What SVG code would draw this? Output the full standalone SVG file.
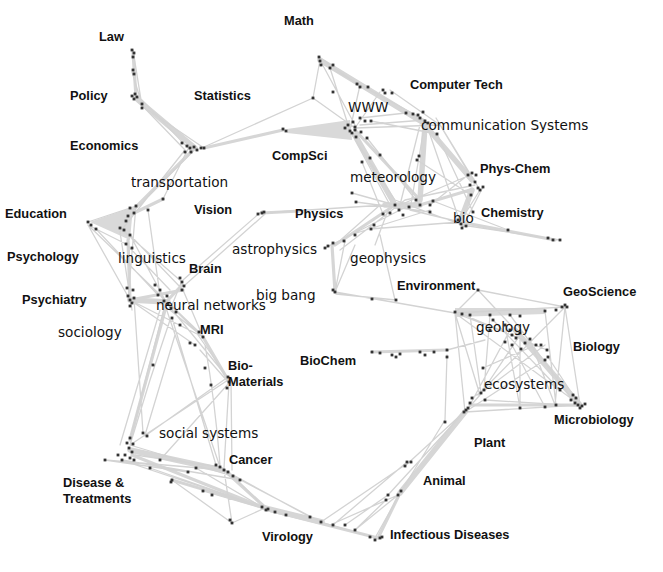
<svg xmlns="http://www.w3.org/2000/svg" width="663" height="572" viewBox="0 0 663 572">
<style>
.e{fill:none;stroke:#d3d3d3;stroke-width:1.3;stroke-linecap:round}
.b3{fill:none;stroke:#d6d6d6;stroke-width:3.2;stroke-linecap:round}
.b5{fill:none;stroke:#d6d6d6;stroke-width:5.5;stroke-linecap:round}
.poly{fill:#d9d9d9;stroke:none}
.d{fill:#333}
.c{font-family:"Liberation Sans",Arial,sans-serif;font-weight:bold;font-size:12.8px;fill:#111}
.t{font-family:"DejaVu Sans","Liberation Sans",sans-serif;font-size:13.6px;fill:#111}
</style>
<defs>
<rect id="p" x="-1.4" y="-1.4" width="2.8" height="2.8"/>
</defs>
<rect width="663" height="572" fill="#fff"/>
<g id="connectors">
<polygon class="poly" points="90,222 133,207 130,240"/>
<polygon class="poly" points="287,129 350,120 352,140 287,133"/>
<polygon class="poly" points="455,308 545,308 545,314 455,317"/>
<path class="b3" d="M133 52 L136 97 M193 150 L133 210 M163 199 L132 214 M128 240 L130 300 M168 300 L182 285 M262 213 L300 211 M203 337 L228 380 M132 455 L265 508 M224 470 L268 510 M268 510 L378 538 M378 538 L400 493 M372 352 L447 350 M470 405 L578 405 M335 292 L332 245 M335 245 L395 205 M460 222 L555 240 M204 148 L283 130 M130 440 L165 310 M172 480 L262 507 M130 300 L183 290 M420 205 L470 190 M355 130 L420 200"/>
<path class="b5" d="M138 100 L195 148 M130 300 L168 302 M130 450 L222 470 M400 493 L465 412 M515 330 L580 405 M385 205 L420 205 M355 135 L395 205 M320 60 L422 122 M425 125 L472 180 M425 125 L420 200 M472 190 L460 222 M265 508 L322 522"/>
<path class="e" d="M133 50 L142 106 M132 72 L140 98 M133 96 L185 150 M142 106 L204 148 M140 98 L192 152 M204 147 L313 98 M313 98 L320 60 M313 98 L355 128 M320 60 L355 125 M185 150 L120 232 M190 145 L163 199 M192 152 L140 205 M148 210 L160 295 M88 225 L130 300 M88 225 L155 290 M130 235 L165 300 M126 244 L170 290 M130 235 L183 290 M136 205 L128 300 M120 232 L132 310 M183 280 L262 211 M185 285 L265 214 M262 213 L385 205 M165 300 L198 333 M170 310 L203 337 M130 300 L195 345 M183 290 L203 337 M181 283 L170 310 M165 305 L130 440 M170 320 L150 380 L130 445 M175 335 L145 435 M160 310 L120 445 M228 380 L130 445 M228 380 L145 435 M229 383 L224 468 M231 380 L232 470 M205 345 Q215 400 220 465 M198 335 L228 378 M200 350 L229 383 M105 460 L224 470 M135 455 L220 467 M127 462 L265 508 M172 480 L265 508 M172 480 L232 523 M232 523 L265 508 M224 470 L310 517 M228 471 L265 508 M321 522 L405 465 M330 525 L398 495 M355 530 L398 495 M375 538 L402 490 M321 522 L375 538 M447 355 L445 420 M445 420 L402 490 M447 350 L485 340 M465 412 L480 395 M465 412 L580 405 M480 395 L520 335 M485 390 L545 345 M470 405 L510 330 M478 395 L565 307 M520 405 L520 340 M555 405 L530 340 M555 405 L565 307 M580 405 L565 307 M455 313 L565 307 M478 290 L565 307 M478 290 L520 335 M478 290 L455 313 M455 313 L580 405 M455 313 L480 395 M455 313 L465 412 M335 292 L455 313 M336 294 L396 300 M335 292 L355 245 M340 250 L405 200 M375 245 L390 205 M380 235 L395 300 M355 140 L390 205 M352 135 L395 200 M360 125 L425 120 M355 128 L440 125 M420 125 L400 205 M425 122 L410 210 M440 125 L470 175 M436 118 L480 190 M425 120 L460 222 M400 205 L470 175 M405 200 L475 185 M410 210 L460 222 M395 200 L462 225 M460 222 L480 190 M462 225 L560 240 M330 68 L410 112 M360 85 L425 120 M380 92 L355 128 M360 85 L350 130 M390 90 L440 125 M380 205 L335 245 M350 235 L430 210 M325 248 L420 200 M335 292 L345 241 M134 298 L143 433 M160 295 L228 378 M165 305 L220 467 M172 318 L216 465 M130 300 L203 337 M155 290 L199 332 M96 229 L158 295 M120 228 L182 282 M88 222 L136 206 M88 225 L126 244 M130 445 L232 476 M122 460 L240 480 M105 460 L188 472 M150 468 L265 508 M196 468 L262 507 M224 470 L232 523 M233 476 L321 522 M203 491 L286 515 M228 377 L145 436 M229 383 L160 460 M370 229 L460 222 M356 202 L430 212 M352 193 L395 205 M362 162 L383 214 M380 155 L420 205 M417 160 L471 195 M437 134 L473 212 M367 138 L416 200 M371 121 L437 134 M360 118 L406 113 M319 57 L357 84 M330 68 L350 131 M468 175 L430 205 M483 187 L462 228 M433 201 L508 230 M545 311 L556 405 M490 315 L484 390 M505 325 L520 408 M510 315 L575 403 M493 320 L560 390 M470 315 L481 393 M512 345 L545 407 M548 357 L573 395 M483 368 L536 345 M455 313 L512 335 M462 314 L547 350 M484 390 L472 398 M485 400 L582 406 M465 412 L545 360 M405 466 L464 412 M388 495 L466 410 M345 525 L388 495 M333 525 L407 462 M355 530 L386 500"/>
</g>
<g id="law"><g class="d"><use href="#p" x="132" y="50"/><use href="#p" x="134" y="53"/><use href="#p" x="133" y="57"/><use href="#p" x="133" y="70"/><use href="#p" x="134" y="74"/></g><text class="c" x="99" y="41">Law</text></g>
<g id="policy"><g class="d"><use href="#p" x="132" y="96"/><use href="#p" x="135" y="94"/><use href="#p" x="137" y="97"/><use href="#p" x="134" y="99"/><use href="#p" x="142" y="104"/><use href="#p" x="142" y="108"/></g><text class="c" x="70" y="100">Policy</text></g>
<g id="economics"><g class="d"><use href="#p" x="182" y="143"/><use href="#p" x="187" y="146"/><use href="#p" x="190" y="148"/><use href="#p" x="194" y="147"/><use href="#p" x="197" y="150"/><use href="#p" x="201" y="148"/><use href="#p" x="204" y="148"/><use href="#p" x="185" y="152"/><use href="#p" x="191" y="152"/></g><text class="c" x="70" y="150">Economics</text></g>
<g id="statistics"><g class="d"><use href="#p" x="283" y="129"/><use href="#p" x="286" y="131"/><use href="#p" x="313" y="98"/></g><text class="c" x="194" y="100">Statistics</text></g>
<g id="math"><g class="d"><use href="#p" x="319" y="57"/><use href="#p" x="320" y="61"/><use href="#p" x="321" y="65"/><use href="#p" x="330" y="68"/><use href="#p" x="333" y="65"/><use href="#p" x="333" y="92"/></g><text class="c" x="284" y="25">Math</text></g>
<g id="compsci"><text class="c" x="272" y="160">CompSci</text></g>
<g id="www"><g class="d"><use href="#p" x="353" y="122"/><use href="#p" x="355" y="127"/><use href="#p" x="355" y="130"/><use href="#p" x="352" y="133"/><use href="#p" x="356" y="137"/><use href="#p" x="350" y="131"/><use href="#p" x="348" y="125"/><use href="#p" x="367" y="138"/><use href="#p" x="371" y="121"/><use href="#p" x="365" y="121"/><use href="#p" x="360" y="118"/><use href="#p" x="361" y="132"/><use href="#p" x="345" y="128"/></g><text class="t" x="348" y="112">WWW</text></g>
<g id="computer-tech"><g class="d"><use href="#p" x="357" y="84"/><use href="#p" x="360" y="87"/><use href="#p" x="368" y="87"/><use href="#p" x="383" y="90"/><use href="#p" x="385" y="93"/><use href="#p" x="392" y="93"/></g><text class="c" x="410" y="89">Computer Tech</text></g>
<g id="communication"><g class="d"><use href="#p" x="406" y="113"/><use href="#p" x="413" y="114"/><use href="#p" x="418" y="115"/><use href="#p" x="423" y="112"/><use href="#p" x="420" y="118"/><use href="#p" x="425" y="121"/><use href="#p" x="428" y="123"/><use href="#p" x="437" y="134"/><use href="#p" x="417" y="160"/><use href="#p" x="419" y="156"/></g><text class="t" x="421" y="130">communication Systems</text></g>
<g id="phys-chem"><g class="d"><use href="#p" x="468" y="175"/><use href="#p" x="472" y="173"/><use href="#p" x="476" y="175"/><use href="#p" x="470" y="185"/><use href="#p" x="475" y="182"/><use href="#p" x="478" y="188"/><use href="#p" x="480" y="190"/><use href="#p" x="471" y="195"/><use href="#p" x="483" y="187"/></g><text class="c" x="480" y="173">Phys-Chem</text></g>
<g id="meteorology"><g class="d"><use href="#p" x="362" y="162"/><use href="#p" x="370" y="158"/><use href="#p" x="380" y="155"/><use href="#p" x="383" y="214"/><use href="#p" x="390" y="213"/><use href="#p" x="395" y="205"/><use href="#p" x="399" y="210"/><use href="#p" x="409" y="207"/><use href="#p" x="416" y="200"/><use href="#p" x="420" y="205"/><use href="#p" x="430" y="205"/><use href="#p" x="430" y="212"/><use href="#p" x="433" y="201"/><use href="#p" x="352" y="193"/><use href="#p" x="356" y="202"/><use href="#p" x="403" y="215"/></g><text class="t" x="350" y="182">meteorology</text></g>
<g id="bio"><g class="d"><use href="#p" x="458" y="220"/><use href="#p" x="461" y="224"/><use href="#p" x="462" y="228"/><use href="#p" x="466" y="226"/><use href="#p" x="473" y="212"/></g><text class="t" x="453" y="223">bio</text></g>
<g id="chemistry"><g class="d"><use href="#p" x="508" y="230"/><use href="#p" x="548" y="238"/><use href="#p" x="553" y="240"/><use href="#p" x="560" y="240"/></g><text class="c" x="481" y="217">Chemistry</text></g>
<g id="physics"><g class="d"><use href="#p" x="258" y="214"/><use href="#p" x="262" y="213"/><use href="#p" x="264" y="212"/></g><text class="c" x="295" y="218">Physics</text></g>
<g id="vision"><text class="c" x="194" y="214">Vision</text></g>
<g id="astrophysics"><g class="d"><use href="#p" x="325" y="248"/><use href="#p" x="328" y="246"/><use href="#p" x="333" y="243"/><use href="#p" x="344" y="241"/><use href="#p" x="355" y="235"/><use href="#p" x="371" y="229"/><use href="#p" x="374" y="225"/></g><text class="t" x="232" y="254">astrophysics</text></g>
<g id="geophysics"><text class="t" x="350" y="263">geophysics</text></g>
<g id="big-bang"><g class="d"><use href="#p" x="335" y="292"/><use href="#p" x="333" y="290"/><use href="#p" x="372" y="299"/><use href="#p" x="396" y="300"/></g><text class="t" x="256" y="300">big bang</text></g>
<g id="transportation"><text class="t" x="131" y="187">transportation</text></g>
<g id="education"><g class="d"><use href="#p" x="88" y="222"/><use href="#p" x="91" y="225"/><use href="#p" x="96" y="229"/><use href="#p" x="130" y="208"/><use href="#p" x="136" y="206"/><use href="#p" x="134" y="213"/><use href="#p" x="128" y="216"/><use href="#p" x="126" y="221"/><use href="#p" x="120" y="228"/><use href="#p" x="124" y="230"/><use href="#p" x="130" y="235"/><use href="#p" x="126" y="244"/><use href="#p" x="163" y="199"/><use href="#p" x="148" y="210"/><use href="#p" x="132" y="248"/></g><text class="c" x="5" y="218">Education</text></g>
<g id="psychology"><text class="c" x="7" y="261">Psychology</text></g>
<g id="linguistics"><g class="d"><use href="#p" x="155" y="285"/><use href="#p" x="160" y="290"/><use href="#p" x="158" y="295"/><use href="#p" x="167" y="296"/></g><text class="t" x="118" y="263">linguistics</text></g>
<g id="brain"><g class="d"><use href="#p" x="180" y="278"/><use href="#p" x="182" y="282"/><use href="#p" x="184" y="286"/><use href="#p" x="182" y="290"/></g><text class="c" x="189" y="273">Brain</text></g>
<g id="psychiatry"><g class="d"><use href="#p" x="128" y="296"/><use href="#p" x="130" y="300"/><use href="#p" x="132" y="303"/><use href="#p" x="134" y="298"/><use href="#p" x="130" y="306"/><use href="#p" x="133" y="290"/><use href="#p" x="127" y="288"/></g><text class="c" x="22" y="304">Psychiatry</text></g>
<g id="neural-networks"><g class="d"><use href="#p" x="164" y="301"/><use href="#p" x="168" y="304"/><use href="#p" x="171" y="308"/><use href="#p" x="176" y="312"/></g><text class="t" x="156" y="310">neural networks</text></g>
<g id="sociology"><text class="t" x="58" y="337">sociology</text></g>
<g id="mri"><g class="d"><use href="#p" x="199" y="332"/><use href="#p" x="203" y="337"/><use href="#p" x="195" y="345"/><use href="#p" x="190" y="343"/><use href="#p" x="172" y="318"/><use href="#p" x="180" y="325"/></g><text class="c" x="200" y="334">MRI</text></g>
<g id="bio-materials"><g class="d"><use href="#p" x="228" y="377"/><use href="#p" x="229" y="382"/><use href="#p" x="227" y="388"/><use href="#p" x="211" y="385"/><use href="#p" x="205" y="368"/></g><text class="c" x="228" y="370">Bio-</text><text class="c" x="228" y="386">Materials</text></g>
<g id="social-systems"><text class="t" x="159" y="438">social systems</text></g>
<g id="disease"><g class="d"><use href="#p" x="130" y="438"/><use href="#p" x="127" y="443"/><use href="#p" x="133" y="444"/><use href="#p" x="129" y="448"/><use href="#p" x="132" y="452"/><use href="#p" x="125" y="455"/><use href="#p" x="130" y="458"/><use href="#p" x="134" y="460"/><use href="#p" x="122" y="460"/><use href="#p" x="105" y="460"/><use href="#p" x="118" y="455"/><use href="#p" x="143" y="433"/><use href="#p" x="147" y="436"/><use href="#p" x="153" y="365"/><use href="#p" x="172" y="480"/><use href="#p" x="171" y="482"/><use href="#p" x="150" y="468"/><use href="#p" x="188" y="472"/><use href="#p" x="196" y="468"/><use href="#p" x="160" y="460"/></g><text class="c" x="63" y="487">Disease &amp;</text><text class="c" x="63" y="503">Treatments</text></g>
<g id="cancer"><g class="d"><use href="#p" x="220" y="467"/><use href="#p" x="224" y="470"/><use href="#p" x="228" y="472"/><use href="#p" x="216" y="465"/><use href="#p" x="233" y="476"/><use href="#p" x="240" y="480"/></g><text class="c" x="229" y="464">Cancer</text></g>
<g id="virology"><g class="d"><use href="#p" x="262" y="507"/><use href="#p" x="266" y="510"/><use href="#p" x="268" y="509"/><use href="#p" x="275" y="512"/><use href="#p" x="286" y="515"/><use href="#p" x="310" y="517"/><use href="#p" x="321" y="522"/><use href="#p" x="232" y="523"/><use href="#p" x="230" y="520"/><use href="#p" x="203" y="491"/><use href="#p" x="212" y="495"/></g><text class="c" x="262" y="541">Virology</text></g>
<g id="infectious-diseases"><g class="d"><use href="#p" x="333" y="525"/><use href="#p" x="345" y="525"/><use href="#p" x="355" y="530"/><use href="#p" x="370" y="537"/><use href="#p" x="375" y="540"/><use href="#p" x="380" y="538"/><use href="#p" x="382" y="537"/></g><text class="c" x="390" y="539">Infectious Diseases</text></g>
<g id="animal"><g class="d"><use href="#p" x="386" y="500"/><use href="#p" x="388" y="495"/><use href="#p" x="398" y="495"/><use href="#p" x="401" y="491"/><use href="#p" x="405" y="466"/><use href="#p" x="407" y="462"/><use href="#p" x="411" y="462"/></g><text class="c" x="423" y="485">Animal</text></g>
<g id="plant"><g class="d"><use href="#p" x="464" y="412"/><use href="#p" x="466" y="410"/><use href="#p" x="468" y="408"/><use href="#p" x="445" y="422"/><use href="#p" x="470" y="403"/><use href="#p" x="472" y="398"/></g><text class="c" x="474" y="447">Plant</text></g>
<g id="ecosystems"><g class="d"><use href="#p" x="481" y="393"/><use href="#p" x="484" y="390"/><use href="#p" x="485" y="400"/><use href="#p" x="483" y="368"/><use href="#p" x="520" y="408"/><use href="#p" x="545" y="407"/><use href="#p" x="556" y="405"/><use href="#p" x="560" y="390"/><use href="#p" x="545" y="360"/></g><text class="t" x="484" y="389">ecosystems</text></g>
<g id="microbiology"><g class="d"><use href="#p" x="571" y="400"/><use href="#p" x="575" y="403"/><use href="#p" x="578" y="405"/><use href="#p" x="582" y="406"/><use href="#p" x="585" y="404"/><use href="#p" x="580" y="408"/><use href="#p" x="576" y="398"/><use href="#p" x="573" y="395"/></g><text class="c" x="554" y="424">Microbiology</text></g>
<g id="biology"><text class="c" x="573" y="351">Biology</text></g>
<g id="geology"><g class="d"><use href="#p" x="455" y="312"/><use href="#p" x="462" y="314"/><use href="#p" x="470" y="315"/><use href="#p" x="490" y="315"/><use href="#p" x="510" y="315"/><use href="#p" x="520" y="316"/><use href="#p" x="493" y="320"/><use href="#p" x="505" y="325"/><use href="#p" x="510" y="330"/><use href="#p" x="512" y="335"/><use href="#p" x="516" y="338"/><use href="#p" x="520" y="333"/><use href="#p" x="525" y="343"/><use href="#p" x="530" y="339"/><use href="#p" x="536" y="345"/><use href="#p" x="541" y="345"/><use href="#p" x="547" y="350"/><use href="#p" x="548" y="357"/><use href="#p" x="512" y="345"/><use href="#p" x="521" y="349"/><use href="#p" x="505" y="342"/><use href="#p" x="490" y="330"/></g><text class="t" x="476" y="332">geology</text></g>
<g id="geoscience"><g class="d"><use href="#p" x="545" y="311"/><use href="#p" x="556" y="310"/><use href="#p" x="562" y="307"/><use href="#p" x="565" y="305"/><use href="#p" x="567" y="307"/></g><text class="c" x="563" y="296">GeoScience</text></g>
<g id="environment"><g class="d"><use href="#p" x="478" y="290"/></g><text class="c" x="397" y="290">Environment</text></g>
<g id="biochem"><g class="d"><use href="#p" x="372" y="352"/><use href="#p" x="380" y="353"/><use href="#p" x="392" y="355"/><use href="#p" x="396" y="357"/><use href="#p" x="400" y="354"/><use href="#p" x="420" y="352"/><use href="#p" x="425" y="355"/><use href="#p" x="434" y="352"/><use href="#p" x="447" y="350"/><use href="#p" x="447" y="357"/></g><text class="c" x="300" y="365">BioChem</text></g>
</svg>
